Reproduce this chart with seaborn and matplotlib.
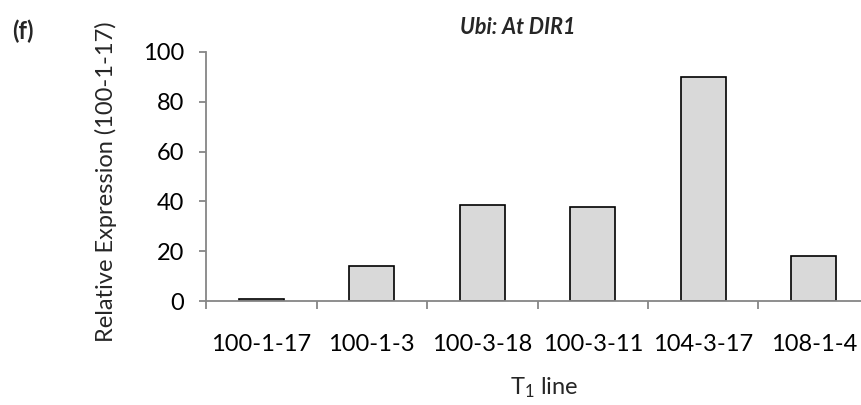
import matplotlib
matplotlib.use("Agg")
import matplotlib.pyplot as plt
import seaborn as sns
import pandas as pd
import numpy as np

lines = ["100-1-17", "100-1-3", "100-3-18", "100-3-11", "104-3-17", "108-1-4"]
expression = [0.7, 14.2, 38.5, 37.6, 89.8, 18.1]
y_ticks = [0, 20, 40, 60, 80, 100]

sns.set_theme(style="white")
plt.rcParams["font.family"] = ["Lato", "DejaVu Sans"]
plt.rcParams["mathtext.fontset"] = "custom"
plt.rcParams["mathtext.rm"] = "Lato"
plt.rcParams["mathtext.it"] = "Lato:italic"

df = pd.DataFrame({"line": lines, "expr": expression})

W, H = 861, 405
fig = plt.figure(figsize=(W / 100, H / 100), dpi=100)
x0, x1 = 206, 869
y_top, y_bot = 52, 301
ax = fig.add_axes([x0 / W, 1 - y_bot / H, (x1 - x0) / W, (y_bot - y_top) / H])

sns.barplot(data=df, x="line", y="expr", ax=ax, color="#d9d9d9",
            edgecolor="black", linewidth=1.2, width=0.41, saturation=1)

ax.set_xlim(-0.5, 5.5)
ax.set_ylim(0, 100)
ax.set_yticks(y_ticks)
ax.set_xlabel("")
ax.set_ylabel("")

grey = "#868686"
for s in ["top", "right"]:
    ax.spines[s].set_visible(False)
for s in ["left", "bottom"]:
    ax.spines[s].set_color(grey)
    ax.spines[s].set_linewidth(1.3)
    ax.spines[s].set_zorder(5)

ax.tick_params(axis="y", which="major", left=True, length=5, width=1.3,
               color=grey, pad=11, labelsize=17, labelcolor="black")
ax.set_xticks(np.arange(len(lines)))
ax.set_xticklabels(lines)
ax.set_xticks(np.arange(-0.5, 6.0, 1.0), minor=True)
ax.tick_params(axis="x", which="major", bottom=False, length=0, pad=24,
               labelsize=17, labelcolor="black")
ax.tick_params(axis="x", which="minor", bottom=True, length=5.5, width=1.3,
               color=grey)

fig.text(518 / W, 1 - 27 / H, "Ubi: At DIR1", ha="center", va="center",
         fontsize=15.5, fontweight="bold", fontstyle="italic")
fig.text(23 / W, 1 - 31 / H, "(f)", ha="center", va="center",
         fontsize=17, fontweight="bold")
fig.text(106 / W, 1 - 182 / H, "Relative Expression (100-1-17)", ha="center",
         va="center", rotation=90, fontsize=17)
fig.text(544 / W, 1 - 388 / H, "T$_1$ line", ha="center", va="center",
         fontsize=17)

fig.savefig("out.png", dpi=100)
